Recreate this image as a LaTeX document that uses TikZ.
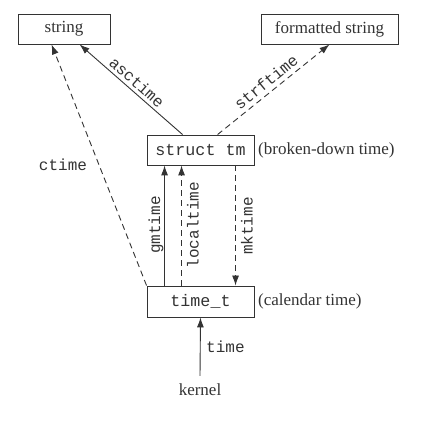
\documentclass[tikz,border=0pt]{standalone}
\usepackage{fontspec}
\setmainfont{Liberation Serif}
\setmonofont{Liberation Mono}
\usetikzlibrary{calc,arrows.meta}
\definecolor{ink}{HTML}{333333}
\tikzset{
  mybox/.style={draw=ink, line width=0.9pt, minimum height=30pt, inner sep=0pt, text=ink, font=\fontsize{17}{20}\selectfont},
  mytbox/.style={mybox, font=\ttfamily\fontsize{16.7}{20}\selectfont},
  mytext/.style={text=ink, font=\fontsize{17}{20}\selectfont, inner sep=1pt},
  mylbl/.style={text=ink, font=\ttfamily\fontsize{16}{18}\selectfont, inner sep=1pt},
  myconn/.style={draw=ink, line width=0.9pt, -{Latex[length=10pt,width=7pt]}},
  mydconn/.style={myconn, dash pattern=on 6pt off 4pt},
}
\begin{document}
\begin{tikzpicture}[x=1pt,y=1pt]
\useasboundingbox (0,0) rectangle (432,436);
\node[mybox, minimum width=92pt] (str) at (64,407) {string};
\node[mybox, minimum width=137pt] (fmt) at (329.5,407) {formatted string};
\node[mytbox, minimum width=107pt] (tm) at (200.5,286) {struct tm};
\node[mytbox, minimum width=107pt, minimum height=31pt] (tt) at (200.5,134.5) {time\_t};
\node[mytext, anchor=west] (tmlbl) at (257,286) {(broken-down time)};
\node[mytext, anchor=west] (ttlbl) at (257,134.5) {(calendar time)};
\node[mytext] (kern) at (200,46) {kernel};
% connectors
\coordinate (a1) at ($(tm.north west)+(36,0)$);
\coordinate (a2) at ($(str.south west)+(62,0)$);
\draw[myconn] (a1) -- (a2);
\coordinate (s1) at ($(tm.north west)+(71,0)$);
\draw[mydconn] (s1) -- (fmt.south);
\coordinate (c2) at ($(str.south west)+(34,0)$);
\draw[mydconn] (tt.north west) -- (c2);
\coordinate (g1) at ($(tt.north west)+(18,0)$);
\coordinate (g2) at ($(tm.south west)+(18,0)$);
\draw[myconn] (g1) -- (g2);
\coordinate (l1) at ($(tt.north west)+(35,0)$);
\coordinate (l2) at ($(tm.south west)+(35,0)$);
\draw[mydconn] (l1) -- (l2);
\coordinate (m1) at ($(tm.south west)+(89,0)$);
\coordinate (m2) at ($(tt.north west)+(89,0)$);
\draw[mydconn] (m1) -- (m2);
\coordinate (k1) at ($(kern.north)+(0,7)$);
\draw[myconn] (k1) -- (tt.south);
% labels
\node[mylbl, rotate=-41.5] (lasc) at (137,354) {asctime};
\node[mylbl, rotate=39.3] (lstrf) at (266,354) {strftime};
\node[mylbl] (lct) at (63,271) {ctime};
\node[mylbl, rotate=90] (lgm) at (156,211) {gmtime};
\node[mylbl, rotate=90] (llo) at (193,211) {localtime};
\node[mylbl, rotate=90] (lmk) at (247,210) {mktime};
\node[mylbl, anchor=west] (ltime) at (205,89) {time};
\end{tikzpicture}
\end{document}
